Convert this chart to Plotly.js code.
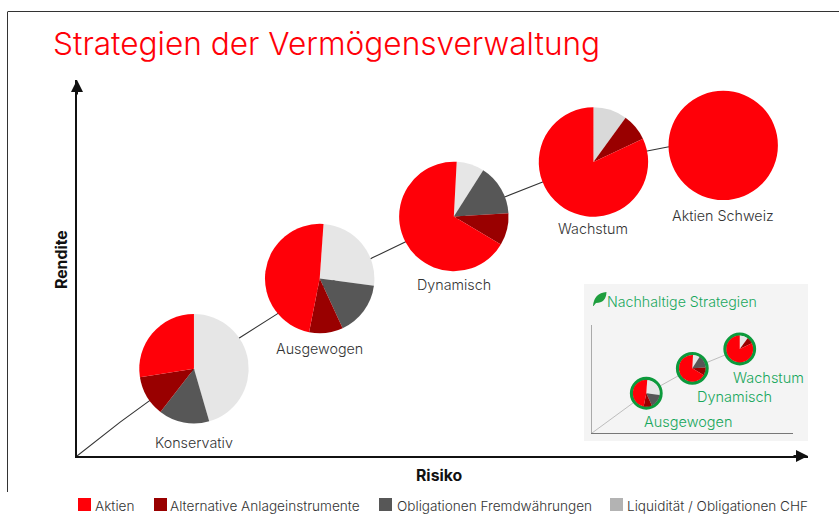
<!DOCTYPE html>
<html><head><meta charset="utf-8">
<script src="https://cdn.plot.ly/plotly-3.0.1.min.js"></script>
<style>html,body{margin:0;padding:0;background:#fff}</style></head>
<body><div id="chart" style="width:839px;height:515px"></div>
<script>
// ---- data ----
const strategyNames = ['Konservativ','Ausgewogen','Dynamisch','Wachstum','Aktien Schweiz'];
const risk = [16.0,33.2,51.55,70.65,88.4];
const rendite = [23.2,47.2,63.7,78.2,82.6];
const sliceNames = ['Liquidität / Obligationen CHF','Obligationen Fremdwährungen','Alternative Anlageinstrumente','Aktien'];
const konservativ = [45.5,15,12,27.5];
const ausgewogen = [26,16,10,48];
const dynamisch = [8.2,15,9.5,67.3];
const wachstum = [10,0,8,82];
const aktienSchweiz = [0,0,0,100];
const curveRisk = [0,5.9,9.7,22.2,27.4,40.4,44.9,58.5,63.7,78,80.8,85.2];
const curveRendite = [0,9,14.4,31.4,37.8,52.7,56.9,68.9,72.9,81.1,82.2,83.2];
const greenNames = ['Ausgewogen','Dynamisch','Wachstum'];
const greenRisk = [27,49.9,73.5];
const greenRendite = [36.8,59.9,77.8];
const greenCurveRisk = [0,20.4,34.7,42.8,57.7,66.2];
const greenCurveRendite = [0,27.8,44.4,52.8,65.7,72.2];
const legendNames = ['Aktien','Alternative Anlageinstrumente','Obligationen Fremdwährungen','Liquidität / Obligationen CHF'];

// ---- layout helpers ----
const W=839,H=515;
const FONT='Inter, "Noto Sans", sans-serif';
const RED='#ff0008',DRED='#990000',DGREY='#575757',LGREY='#e6e6e6',GREEN='#18a75c',RING='#0c9a3c';
const px=x=>x/W, py=y=>1-y/H;
const main={x0:77,x1:808,y0:456,y1:80}, inset={x0:592,x1:793,y0:433,y1:325};
const sx=(a,v)=>a.x0+(a.x1-a.x0)*v/100, sy=(a,v)=>a.y0+(a.y1-a.y0)*v/100;
const pie=(vals,a,rx,ry,r,rot,cols,hole)=>({type:'pie',values:vals,labels:sliceNames.slice(0,vals.length),sort:false,direction:'clockwise',rotation:rot,hole:hole||0,
  textinfo:'none',hoverinfo:'skip',showlegend:false,marker:{colors:cols||[LGREY,DGREY,DRED,RED],line:{width:0}},
  domain:{x:[px(sx(a,rx)-r),px(sx(a,rx)+r)],y:[py(sy(a,ry)+r),py(sy(a,ry)-r)]}});
const mainVals=[konservativ,ausgewogen,dynamisch,wachstum,aktienSchweiz];
const rots=[0,4,3,0,0];
const greenVals=[ausgewogen,dynamisch,wachstum];
const greenRots=[4,3,0];

const data=[
 {type:'scatter',mode:'lines',x:curveRisk,y:curveRendite,xaxis:'x',yaxis:'y',line:{color:'#333',width:1.1},hoverinfo:'skip',showlegend:false},
 {type:'scatter',mode:'lines',x:greenCurveRisk,y:greenCurveRendite,xaxis:'x2',yaxis:'y2',line:{color:'#bdbdbd',width:1},hoverinfo:'skip',showlegend:false},
];
mainVals.forEach((v,i)=>data.push(pie(v,main,risk[i],rendite[i],54.7,rots[i],i==3?['#d9d9d9',DGREY,DRED,RED]:null)));
greenVals.forEach((v,i)=>{
 data.push(pie([1],inset,greenRisk[i],greenRendite[i],16.4,0,[RING],0.8));
 data.push(pie(v,inset,greenRisk[i],greenRendite[i],13.4,greenRots[i]));
});

const ann=(t,x,y,o)=>Object.assign({text:t,xref:'paper',yref:'paper',x:px(x),y:py(y),showarrow:false,xanchor:'center',yanchor:'middle',
  font:{family:FONT,size:14.3,color:'#333',weight:300}},o||{});
const labelY=[442,348,284,229,215];
const annotations=[
 ann('Strategien der Vermögensverwaltung',51,44,{xanchor:'left',font:{family:FONT,size:31.6,color:RED,weight:300}}),
 ann('Rendite',61,260,{textangle:-90,font:{family:FONT,size:15.8,color:'#111',weight:700}}),
 ann('Risiko',439,475,{font:{family:FONT,size:15.8,color:'#111',weight:700}}),
 ann('Nachhaltige Strategien',605,301,{xanchor:'left',font:{family:FONT,size:14.2,color:GREEN,weight:300}}),
 {xref:'x',yref:'y',axref:'pixel',ayref:'pixel',x:100,y:0,ax:-16,ay:0,showarrow:true,text:'',arrowhead:2,arrowsize:1.2,arrowwidth:2,arrowcolor:'#111'},
 {xref:'x',yref:'y',axref:'pixel',ayref:'pixel',x:0,y:100,ax:0,ay:16,showarrow:true,text:'',arrowhead:2,arrowsize:1.2,arrowwidth:2,arrowcolor:'#111'},
];
strategyNames.forEach((n,i)=>annotations.push(ann(n,sx(main,risk[i]),labelY[i])));
const gx=[642,695,731], gy=[421,396,377];
greenNames.forEach((n,i)=>annotations.push(ann(n,gx[i],gy[i],{xanchor:'left',font:{family:FONT,size:14.5,color:GREEN,weight:300}})));

const swatchX=[78,154,379,610], textX=[93,168,395,625];
const swatchCol=[RED,DRED,DGREY,'#b3b3b3'];
const shapes=[
 {type:'line',xref:'paper',yref:'paper',x0:px(7.5),x1:px(7.5),y0:py(12),y1:py(492),line:{color:'#333',width:1}},
 {type:'line',xref:'paper',yref:'paper',x0:px(7.5),x1:px(839),y0:py(11.5),y1:py(11.5),line:{color:'#333',width:1}},
 {type:'rect',xref:'paper',yref:'paper',x0:px(584),x1:px(808),y0:py(441),y1:py(284),fillcolor:'#f4f4f4',line:{width:0},layer:'below'},
 {type:'path',xref:'paper',yref:'paper',fillcolor:'#1f9e3e',line:{width:0},
  path:`M ${px(593)} ${py(306)} Q ${px(594)} ${py(293)} ${px(606.5)} ${py(292)} Q ${px(606)} ${py(303)} ${px(596)} ${py(303)} L ${px(593.5)} ${py(306)} Z`},
];
legendNames.forEach((n,i)=>{
 shapes.push({type:'rect',xref:'paper',yref:'paper',x0:px(swatchX[i]),x1:px(swatchX[i]+13),y0:py(511),y1:py(498),fillcolor:swatchCol[i],line:{width:0}});
 annotations.push(ann(n,textX[i],505.5,{xanchor:'left',font:{family:FONT,size:13.6,color:'#333',weight:300}}));
});
const axis=(a,col,w,anchor,horizontal)=>({
 domain:horizontal?[px(a.x0),px(a.x1)]:[py(a.y0),py(a.y1)],range:[0,100],anchor:anchor,showline:true,linecolor:col,linewidth:w,
 showgrid:false,zeroline:false,showticklabels:false,ticks:'',fixedrange:true});
const layout={width:W,height:H,margin:{l:0,r:0,t:0,b:0,pad:0},paper_bgcolor:'#fff',plot_bgcolor:'rgba(0,0,0,0)',showlegend:false,
 xaxis:axis(main,'#111',2,'y',true),yaxis:axis(main,'#111',2,'x',false),
 xaxis2:axis(inset,'#777',1,'y2',true),yaxis2:axis(inset,'#aaa',1,'x2',false),
 annotations:annotations,shapes:shapes};
Plotly.newPlot('chart',data,layout,{displayModeBar:false,staticPlot:true});
</script></body></html>
